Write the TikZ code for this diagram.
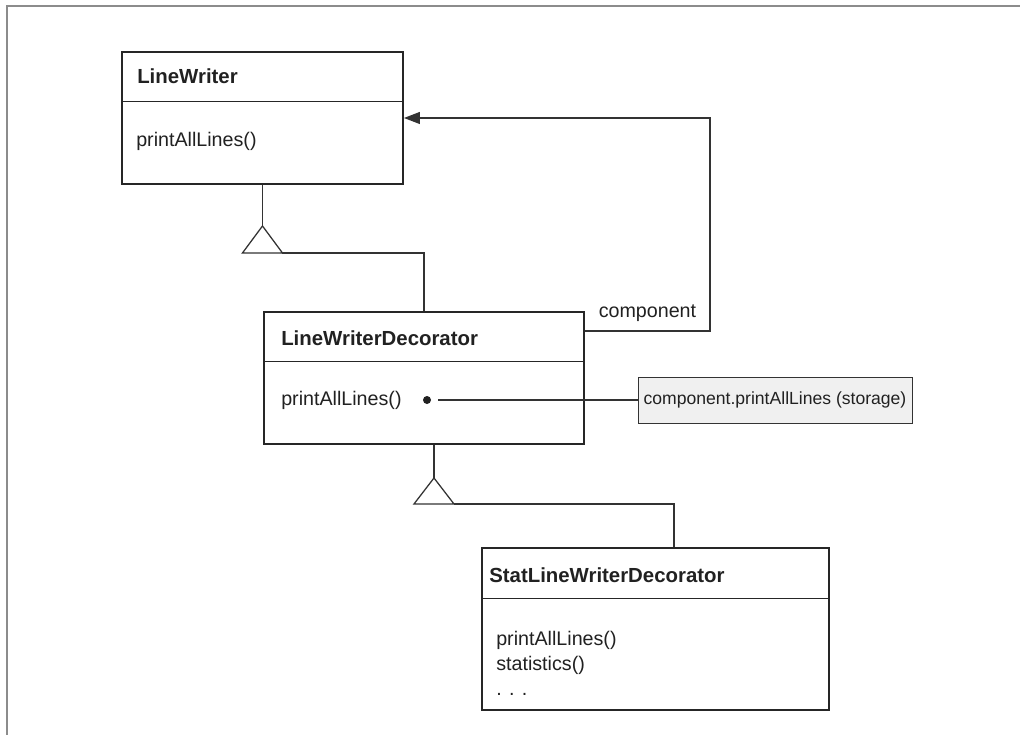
\documentclass[tikz,border=0pt]{standalone}
\usepackage{fontspec}
\setmainfont{Liberation Sans}
\usetikzlibrary{arrows.meta}
\newcommand{\opfont}  {\fontsize{14}{17.8}\selectfont}
\newcommand{\clsfont} {\fontsize{14.5}{17}\selectfont\bfseries}

\begin{document}
\begin{tikzpicture}[
   every node/.style={text=black!87},
   classbox/.style={draw=black!85,line width=1.4pt,fill=white,inner sep=0pt,anchor=north west},
   sepline/.style={draw=black!85,line width=0.7pt},
   link/.style={draw=black!80,line width=0.9pt},
   clsname/.style={anchor=west,inner sep=0pt,font=\clsfont},
   ops/.style={anchor=west,inner sep=0pt,font=\opfont,align=left},
   notebox/.style={draw=black!80,line width=0.7pt,fill=black!6,inner sep=0pt,
                   minimum width=6.85cm,minimum height=1.15cm,font=\fontsize{12.5}{15}\selectfont}]
   \useasboundingbox (0,0) rectangle (25.5,-18.375);
   \draw[black!45,line width=1.5pt] (25.5,-0.15) -- (0.175,-0.15) -- (0.175,-18.375);

   \node[classbox,minimum width=7.025cm,minimum height=3.3cm] (lw) at (3.025,-1.275) {};
   \draw[sepline] ([yshift=-1.25cm]lw.north west) -- ([yshift=-1.25cm]lw.north east);
   \node[clsname] (lwname) at (3.425,-1.9) {LineWriter};
   \node[ops] (lwops) at (3.4,-3.525) {printAllLines()};

   \node[classbox,minimum width=8cm,minimum height=3.3cm] (lwd) at (6.575,-7.775) {};
   \draw[sepline] ([yshift=-1.25cm]lwd.north west) -- ([yshift=-1.25cm]lwd.north east);
   \node[clsname] (lwdname) at (7.025,-8.45) {LineWriterDecorator};
   \node[ops] (lwdops) at (7.025,-10.0) {printAllLines()};
   \node[circle,fill=black!87,inner sep=0pt,minimum size=0.2cm] (dot) at (10.675,-10.0) {};
   \node[notebox] (note) at (19.375,-10.0) {component.printAllLines (storage)};
   \draw[link,shorten <=0.175cm] (dot) -- (note);

   \node[classbox,minimum width=8.675cm,minimum height=4.05cm] (stat) at (12.025,-13.675) {};
   \draw[sepline] ([yshift=-1.275cm]stat.north west) -- ([yshift=-1.275cm]stat.north east);
   \node[clsname] (statname) at (12.225,-14.375) {StatLineWriterDecorator};
   \node[ops] (statops) at (12.4,-16.575) {printAllLines()\\statistics()\\. . .};

   \coordinate (g1) at ([yshift=-1.025cm]lw.south);
   \draw[link] (g1) -- ++(-0.5,-0.675) -- ++(1,0) -- cycle;
   \draw[link] (lw.south) -- (g1);
   \draw[link] ([xshift=0.5cm,yshift=-0.675cm]g1) -| (lwd.north);

   \coordinate (g2) at ([xshift=0.25cm,yshift=-0.825cm]lwd.south);
   \draw[link] (g2) -- ++(-0.5,-0.65) -- ++(1,0) -- cycle;
   \draw[link] (lwd.south -| g2) -- (g2);
   \draw[link] ([xshift=0.5cm,yshift=-0.65cm]g2) -| ([xshift=0.4625cm]stat.north);

   \draw[link,-{Triangle[length=0.4cm,width=0.3cm]}] ([yshift=-0.5cm]lwd.north east)
      -- ++(3.125,0) node[midway,anchor=base,yshift=0.35cm] (comp) {\opfont component}
      |- (lw.east);
\end{tikzpicture}
\end{document}
